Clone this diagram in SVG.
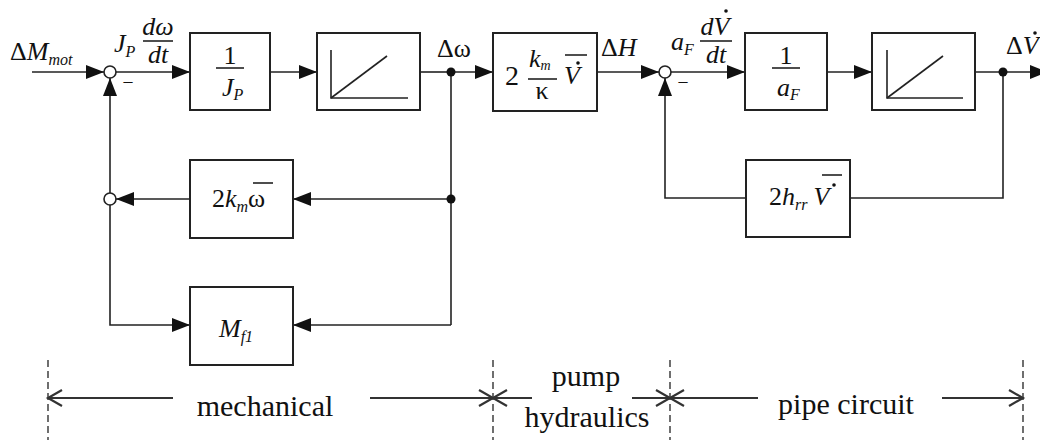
<svg xmlns="http://www.w3.org/2000/svg" width="1040" height="440" viewBox="0 0 1040 440" font-family="'Liberation Serif', 'DejaVu Serif', 'Times New Roman', serif">
<style>
.box{fill:#fff;stroke:#222;stroke-width:2}
.ln{fill:none;stroke:#222;stroke-width:1.6}
.plot{fill:none;stroke:#222;stroke-width:1.6}
.sum{fill:#fff;stroke:#222;stroke-width:1.6}
.dot{fill:#111}
.dash{fill:none;stroke:#222;stroke-width:1.3;stroke-dasharray:7 4}
.dim{fill:none;stroke:#333;stroke-width:2}
text{font-family:'Liberation Serif','DejaVu Serif','Times New Roman',serif;fill:#111}
.t{font-size:26px}
.i{font-style:italic}
.s{font-size:16px}
.lab{font-size:30px}
</style>
<defs>
<marker id="arr" markerUnits="userSpaceOnUse" markerWidth="18" markerHeight="14" refX="18" refY="7" orient="auto">
<path d="M0,0 L18,7 L0,14 z" fill="#111"/>
</marker>
<marker id="chev" markerUnits="userSpaceOnUse" markerWidth="18" markerHeight="20" refX="15" refY="10" orient="auto">
<path d="M1,2 L15,10 L1,18" fill="none" stroke="#333" stroke-width="2.2"/>
</marker>
</defs>

<g id="connectors">
<line class="ln" x1="32" y1="72" x2="104" y2="72" marker-end="url(#arr)"/>
<line class="ln" x1="116" y1="72" x2="190" y2="72" marker-end="url(#arr)"/>
<line class="ln" x1="270" y1="72" x2="317" y2="72" marker-end="url(#arr)"/>
<line class="ln" x1="420" y1="72" x2="451" y2="72"/>
<line class="ln" x1="451" y1="72" x2="493" y2="72" marker-end="url(#arr)"/>
<line class="ln" x1="597" y1="72" x2="659" y2="72" marker-end="url(#arr)"/>
<line class="ln" x1="671" y1="72" x2="745" y2="72" marker-end="url(#arr)"/>
<line class="ln" x1="827" y1="72" x2="872" y2="72" marker-end="url(#arr)"/>
<line class="ln" x1="975" y1="72" x2="1048" y2="72" marker-end="url(#arr)"/>
<line class="ln" x1="451" y1="72" x2="451" y2="325"/>
<line class="ln" x1="451" y1="199" x2="293" y2="199" marker-end="url(#arr)"/>
<line class="ln" x1="190" y1="199" x2="116" y2="199" marker-end="url(#arr)"/>
<line class="ln" x1="110" y1="193" x2="110" y2="78" marker-end="url(#arr)"/>
<polyline class="ln" points="110,205 110,325 190,325" marker-end="url(#arr)"/>
<line class="ln" x1="451" y1="325" x2="293" y2="325" marker-end="url(#arr)"/>
<polyline class="ln" points="1003,72 1003,198 850,198"/>
<polyline class="ln" points="746,198 665,198 665,78" marker-end="url(#arr)"/>
<circle class="dot" cx="451" cy="72" r="4.5"/>
<circle class="dot" cx="451" cy="199" r="4.5"/>
<circle class="dot" cx="1003" cy="72" r="4.5"/>
</g>

<g id="labels">
<text class="t" x="10" y="60">Δ<tspan class="i">M</tspan><tspan class="s i" dy="5">mot</tspan></text>
<text class="t i" x="114" y="52">J<tspan class="s" dy="5">P</tspan></text>
<text class="t i" x="158" y="35" text-anchor="middle">dω</text>
<line class="ln" x1="143" y1="41" x2="173" y2="41"/>
<text class="t i" x="158" y="63" text-anchor="middle">dt</text>
<text class="t" x="437" y="57">Δω</text>
<text class="t" x="601" y="56">Δ<tspan class="i">H</tspan></text>
<text class="t i" x="671" y="50">a<tspan class="s" dy="5">F</tspan></text>
<text class="t i" x="715" y="35" text-anchor="middle">dV</text>
<circle class="dot" cx="726" cy="11" r="1.8"/>
<line class="ln" x1="700" y1="41" x2="732" y2="41"/>
<text class="t i" x="716" y="63" text-anchor="middle">dt</text>
<text class="t" x="1006" y="54">Δ<tspan class="i">V</tspan></text>
<circle class="dot" cx="1035" cy="33" r="1.8"/>
</g>

<g id="sum1">
<circle class="sum" cx="110" cy="72" r="6"/>
<text x="128" y="87" font-size="18px" text-anchor="middle">–</text>
</g>
<g id="sum2">
<circle class="sum" cx="665" cy="72" r="6"/>
<text x="683" y="87" font-size="18px" text-anchor="middle">–</text>
</g>
<g id="sum3">
<circle class="sum" cx="110" cy="199" r="6"/>
</g>

<g id="box-inv-jp">
<rect class="box" x="190" y="33" width="80" height="77"/>
<text class="t" x="230" y="64" text-anchor="middle">1</text>
<line class="ln" x1="216" y1="68" x2="244" y2="68"/>
<text class="t i" x="222" y="96">J<tspan class="s" dy="4">P</tspan></text>
</g>

<g id="box-int1">
<rect class="box" x="317" y="33" width="103" height="77"/>
<polyline class="plot" points="331,50 331,98 408,98"/>
<line class="plot" x1="331" y1="98" x2="387" y2="56"/>
</g>

<g id="box-pump">
<rect class="box" x="493" y="33" width="104" height="78"/>
<text x="505" y="85" font-size="28px">2</text>
<text class="t i" x="529" y="67">k<tspan font-size="14px" dy="3">m</tspan></text>
<line class="ln" x1="528" y1="79" x2="557" y2="79"/>
<text class="t" x="542" y="99" text-anchor="middle">κ</text>
<text class="t i" x="564" y="84">V</text>
<circle class="dot" cx="578" cy="63" r="1.8"/>
<line class="ln" x1="565" y1="55" x2="587" y2="55"/>
</g>

<g id="box-inv-af">
<rect class="box" x="745" y="33" width="82" height="77"/>
<text class="t" x="786" y="64" text-anchor="middle">1</text>
<line class="ln" x1="772" y1="68" x2="800" y2="68"/>
<text class="t i" x="777" y="96">a<tspan class="s" dy="4">F</tspan></text>
</g>

<g id="box-int2">
<rect class="box" x="872" y="33" width="103" height="77"/>
<polyline class="plot" points="887,50 887,98 963,98"/>
<line class="plot" x1="887" y1="98" x2="943" y2="56"/>
</g>

<g id="box-km">
<rect class="box" x="190" y="160" width="103" height="78"/>
<text class="t" x="212" y="207">2<tspan class="i">k</tspan><tspan class="s i" dy="5">m</tspan><tspan dy="-5">ω</tspan></text>
<line class="ln" x1="253" y1="183" x2="273" y2="183" stroke-width="2.2"/>
</g>

<g id="box-mf1">
<rect class="box" x="190" y="287" width="103" height="78"/>
<text class="t i" x="219" y="337">M<tspan class="s" dy="5">f1</tspan></text>
</g>

<g id="box-hrr">
<rect class="box" x="746" y="160" width="104" height="77"/>
<text class="t" x="769" y="205">2<tspan class="i">h</tspan><tspan class="s i" dy="5">rr</tspan><tspan class="i" dx="6" dy="-5">V</tspan></text>
<circle class="dot" cx="834" cy="185" r="1.8"/>
<line class="ln" x1="822" y1="175" x2="842" y2="175"/>
</g>

<g id="domains">
<line class="dash" x1="48" y1="360" x2="48" y2="440"/>
<line class="dash" x1="493" y1="360" x2="493" y2="440"/>
<line class="dash" x1="670" y1="360" x2="670" y2="440"/>
<line class="dash" x1="1023" y1="360" x2="1023" y2="440"/>
<line class="dim" x1="173" y1="398" x2="48" y2="398" marker-end="url(#chev)"/>
<line class="dim" x1="370" y1="398" x2="493" y2="398" marker-end="url(#chev)"/>
<line class="dim" x1="532" y1="398" x2="493" y2="398" marker-end="url(#chev)"/>
<line class="dim" x1="632" y1="398" x2="670" y2="398" marker-end="url(#chev)"/>
<line class="dim" x1="758" y1="398" x2="670" y2="398" marker-end="url(#chev)"/>
<line class="dim" x1="942" y1="398" x2="1023" y2="398" marker-end="url(#chev)"/>
<text class="lab" x="265" y="416" text-anchor="middle">mechanical</text>
<text class="lab" x="586" y="386" text-anchor="middle">pump</text>
<text class="lab" x="587" y="427" text-anchor="middle">hydraulics</text>
<text class="lab" x="846" y="414" text-anchor="middle">pipe circuit</text>
</g>
</svg>
